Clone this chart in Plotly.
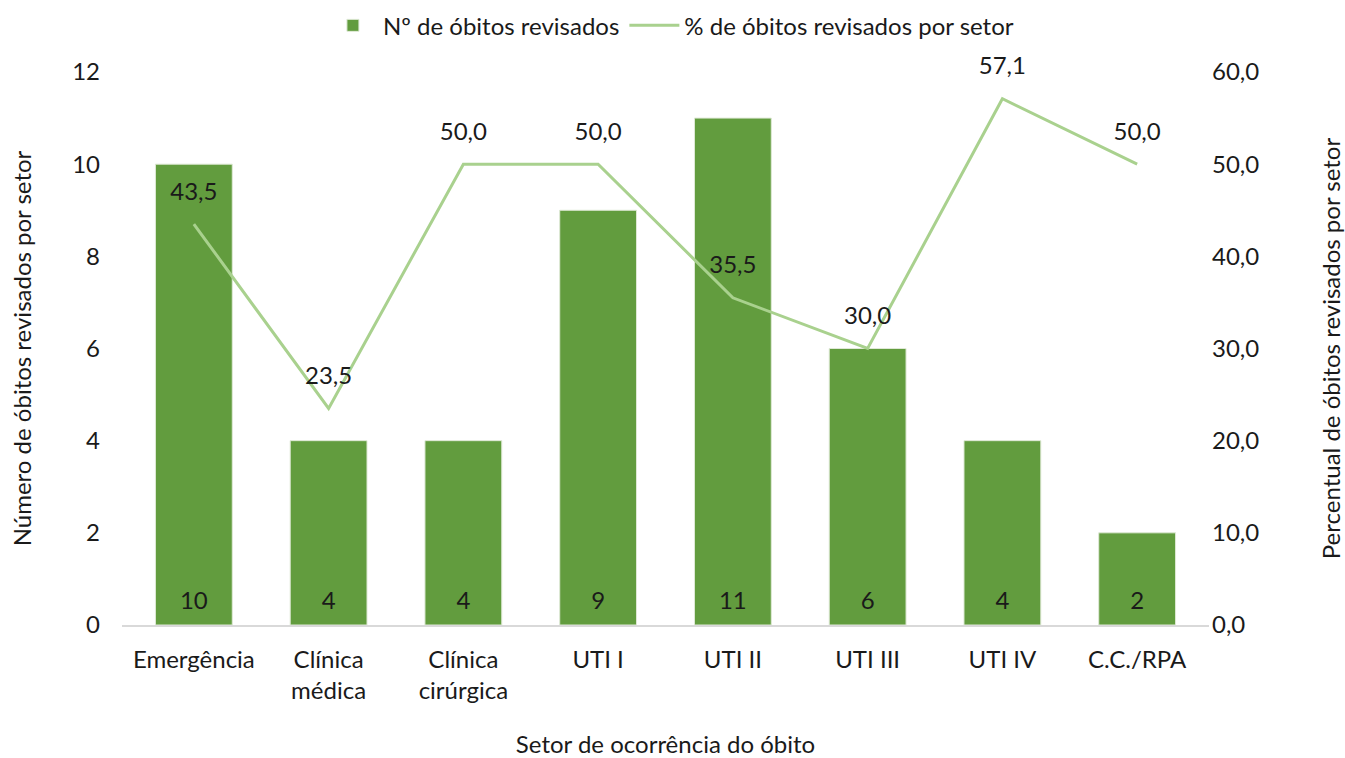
import plotly.graph_objects as go

categories = ["Emergência", "Clínica<br>médica", "Clínica<br>cirúrgica", "UTI I", "UTI II", "UTI III", "UTI IV", "C.C./RPA"]
obitos = [10, 4, 4, 9, 11, 6, 4, 2]
percentual = [43.5, 23.5, 50.0, 50.0, 35.5, 30.0, 57.1, 50.0]
pct_labels = ["43,5", "23,5", "50,0", "50,0", "35,5", "30,0", "57,1", "50,0"]
left_ticks = [0, 2, 4, 6, 8, 10, 12]
right_ticks = [0, 10, 20, 30, 40, 50, 60]
right_tick_labels = ["0,0", "10,0", "20,0", "30,0", "40,0", "50,0", "60,0"]

FONT = "Lato"
FS = 24
TXT = "#1a1a1a"
fig = go.Figure()
fig.add_trace(go.Bar(
    x=categories, y=obitos, name="Nº de óbitos revisados",
    marker=dict(color="#629C3E", line=dict(color="#dfe9d6", width=1)), width=0.57,
))
# bar value labels near the base of each bar
fig.add_trace(go.Scatter(
    x=categories, y=[0] * len(obitos), mode="markers+text",
    marker=dict(size=14, color="rgba(0,0,0,0)"),
    text=[str(v) for v in obitos], textposition="top center",
    textfont=dict(color=TXT, size=FS, family=FONT),
    showlegend=False, hoverinfo="skip", cliponaxis=False,
))
fig.add_trace(go.Scatter(
    x=categories, y=percentual, name="% de óbitos revisados por setor",
    mode="lines+markers+text", line=dict(color="#A9D18E", width=3),
    marker=dict(size=28, color="rgba(0,0,0,0)"),
    text=pct_labels, textposition="top center",
    textfont=dict(color=TXT, size=FS, family=FONT),
    yaxis="y2", cliponaxis=False,
))
fig.update_layout(
    width=1345, height=758,
    margin=dict(l=122, r=136, t=72, b=133),
    plot_bgcolor="white", paper_bgcolor="white",
    font=dict(family=FONT, size=FS, color=TXT),
    legend=dict(orientation="h", x=0.505, xanchor="center", yref="container", y=0.966, yanchor="middle",
                font=dict(size=FS), traceorder="normal", itemwidth=50),
    xaxis=dict(showline=True, linecolor="#d9d9d9", linewidth=1.5, ticks="", automargin=False,
               ticklabelstandoff=12,
               title=dict(text="Setor de ocorrência do óbito", standoff=37, font=dict(size=FS)),
               tickfont=dict(size=FS)),
    yaxis=dict(range=[0, 12], tickvals=left_ticks, showgrid=False, zeroline=False, automargin=False,
               ticks="", tickfont=dict(size=FS), ticklabelstandoff=21,
               title=dict(text="Número de óbitos revisados por setor", font=dict(size=FS), standoff=33)),
    yaxis2=dict(range=[0, 60], tickvals=right_ticks, ticktext=right_tick_labels, automargin=False,
                overlaying="y", side="right", showgrid=False, zeroline=False,
                tickfont=dict(size=FS), ticklabelstandoff=2,
                title=dict(text="Percentual de óbitos revisados por setor", font=dict(size=FS), standoff=66)),
)
fig.write_html("out.html", config={"displayModeBar": False},
               post_script="document.body.style.margin='0';document.body.style.overflow='hidden';")
